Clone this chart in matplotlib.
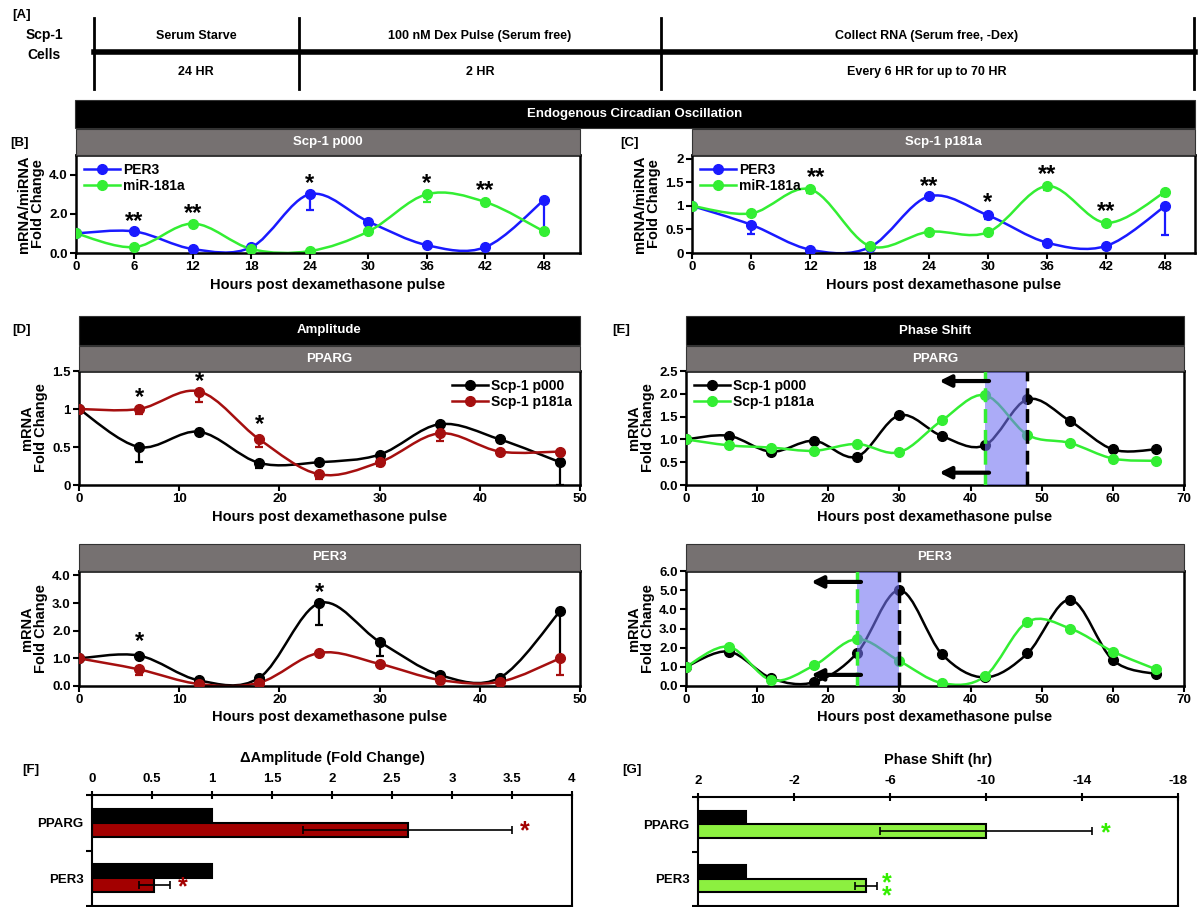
import numpy as np
import matplotlib.pyplot as plt
from matplotlib.path import Path
from matplotlib.patches import PathPatch, Rectangle
from matplotlib.lines import Line2D

plt.rcParams['font.family'] = ['Liberation Sans', 'DejaVu Sans']
plt.rcParams['font.weight'] = 'bold'
plt.rcParams['axes.labelweight'] = 'bold'

# ---- data ----
hours_48 = [0, 6, 12, 18, 24, 30, 36, 42, 48]
hours_66 = [0, 6, 12, 18, 24, 30, 36, 42, 48, 54, 60, 66]

# [B] Scp-1 p000
b_per3 = [1.0, 1.1, 0.2, 0.3, 3.0, 1.6, 0.4, 0.3, 2.7]
b_per3_err = [0, 0, 0.05, 0.05, 0.8, 0.05, 0.05, 0.05, 1.6]
b_mir = [1.0, 0.3, 1.5, 0.2, 0.1, 1.1, 3.0, 2.6, 1.1]
b_mir_err = [0, 0.05, 0.08, 0.05, 0.03, 0.05, 0.4, 0.05, 0.15]
b_stars = [(6, 1.6, '**'), (12, 2.0, '**'), (24, 3.55, '*'), (36, 3.55, '*'), (42, 3.2, '**')]

# [C] Scp-1 p181a
c_per3 = [1.0, 0.6, 0.07, 0.12, 1.2, 0.8, 0.22, 0.15, 1.0]
c_per3_err = [0, 0.2, 0.02, 0.02, 0.03, 0.08, 0.03, 0.03, 0.62]
c_mir = [1.0, 0.84, 1.35, 0.15, 0.45, 0.44, 1.42, 0.64, 1.3]
c_mir_err = [0, 0.03, 0.08, 0.05, 0.03, 0.03, 0.08, 0.03, 0.1]
c_stars = [(12.6, 1.6, '**'), (24, 1.41, '**'), (30, 1.07, '*'), (36, 1.66, '**'), (42, 0.89, '**')]

# [D] Amplitude
d_pparg_p000 = [1.0, 0.5, 0.7, 0.29, 0.3, 0.4, 0.8, 0.6, 0.3]
d_pparg_p000_err = [0, 0.2, 0.03, 0.06, 0.03, 0.02, 0.02, 0.04, 0.3]
d_pparg_p181a = [1.0, 1.0, 1.23, 0.6, 0.14, 0.3, 0.68, 0.44, 0.44]
d_pparg_p181a_err = [0, 0.06, 0.14, 0.1, 0.06, 0.05, 0.1, 0.05, 0.05]
d_pparg_stars = [(6, 1.15, '*'), (12, 1.36, '*'), (18, 0.79, '*')]
d_per3_p000 = [1.0, 1.1, 0.2, 0.3, 3.0, 1.6, 0.4, 0.3, 2.7]
d_per3_p000_err = [0, 0.05, 0.03, 0.05, 0.8, 0.5, 0.05, 0.05, 1.7]
d_per3_p181a = [1.0, 0.6, 0.07, 0.12, 1.2, 0.8, 0.22, 0.15, 1.0]
d_per3_p181a_err = [0, 0.2, 0.02, 0.02, 0.03, 0.08, 0.03, 0.03, 0.62]
d_per3_stars = [(6, 1.6, '*'), (24, 3.37, '*')]

# [E] Phase shift
e_pparg_p000 = [1.0, 1.08, 0.73, 0.97, 0.62, 1.53, 1.07, 0.87, 1.88, 1.4, 0.78, 0.78]
e_pparg_p181a = [1.0, 0.87, 0.82, 0.75, 0.9, 0.72, 1.42, 1.97, 1.1, 0.92, 0.58, 0.53]
e_pparg_peaks = (42, 48)
e_per3_p000 = [1.0, 1.8, 0.4, 0.2, 1.7, 5.0, 1.65, 0.45, 1.7, 4.5, 1.35, 0.62]
e_per3_p181a = [1.0, 2.05, 0.3, 1.07, 2.45, 1.3, 0.15, 0.5, 3.35, 3.0, 1.8, 0.88]
e_per3_peaks = (24, 30)

# [F] / [G]
genes = ['PPARG', 'PER3']
amp_p000 = [1.0, 1.0]
amp_p181a = [2.63, 0.52]
amp_p181a_err = [0.87, 0.13]
shift_p000 = [0, 0]
shift_p181a = [-10, -5]
shift_p181a_err = [4.4, 0.45]

BLUE = '#1a1aff'
GREEN = '#33ee33'
RED = '#a50f0f'
GRAY = '#767171'

W, H = 1203, 907
fig = plt.figure(figsize=(W / 100, H / 100), dpi=100)


def box(l, t, r, b):
    return [l / W, 1 - b / H, (r - l) / W, (b - t) / H]


def fx(x):
    return x / W


def fy(y):
    return 1 - y / H


def banner(l, t, r, b, text, color):
    fig.add_artist(Rectangle((fx(l), fy(b)), (r - l) / W, (b - t) / H, transform=fig.transFigure,
                             facecolor=color, edgecolor='#333333', lw=0.8))
    fig.text(fx((l + r) / 2), fy((t + b) / 2), text, color='white', fontsize=9.5,
             ha='center', va='center')


def smooth(ax, x, y, color, lw=1.8, z=2):
    # Excel-style smoothed line: Catmull-Rom Bezier through the data points
    p = np.column_stack([x, y]).astype(float)
    p = np.vstack([p[:1], p, p[-1:]])
    verts = [tuple(p[1])]
    codes = [Path.MOVETO]
    for j in range(1, len(p) - 2):
        c1 = p[j] + (p[j + 1] - p[j - 1]) / 6
        c2 = p[j + 1] - (p[j + 2] - p[j]) / 6
        verts += [tuple(c1), tuple(c2), tuple(p[j + 1])]
        codes += [Path.CURVE4] * 3
    ax.add_patch(PathPatch(Path(verts, codes), fill=False, edgecolor=color, lw=lw, zorder=z))


def series(ax, x, y, err, color):
    smooth(ax, x, y, color)
    if err is not None:
        ax.errorbar(x, y, yerr=[err, np.zeros(len(err))], fmt='none', ecolor=color,
                    elinewidth=1.6, capsize=3, capthick=1.6, zorder=3)
    ax.plot(x, y, 'o', color=color, ms=7, zorder=4)


def style(ax, xlim, xticks, ylim, yticks, ylabels, ylabel):
    ax.set_xlim(*xlim)
    ax.set_ylim(*ylim)
    ax.set_xticks(xticks)
    ax.set_xticklabels([str(t) for t in xticks])
    ax.set_yticks(yticks)
    ax.set_yticklabels(ylabels)
    ax.tick_params(direction='out', length=4, width=1.5, labelsize=9.5, pad=2)
    for s in ax.spines.values():
        s.set_linewidth(1.8)
    ax.set_xlabel('Hours post dexamethasone pulse', fontsize=10.5, labelpad=3)
    ax.set_ylabel(ylabel, fontsize=10.5, linespacing=1.0, labelpad=3)


def stars(ax, items, color='black', size=17):
    for x, y, s in items:
        ax.text(x, y, s, ha='center', va='center', fontsize=size, color=color, zorder=6)


def legend(ax, labels, colors, loc):
    handles = [Line2D([], [], color=c, lw=1.8, marker='o', ms=7) for c in colors]
    ax.legend(handles, labels, loc=loc, frameon=False, fontsize=10, handlelength=2.6,
              handletextpad=0.2, borderaxespad=0.2, labelspacing=0.1)


# ---- [A] protocol table ----
fig.text(fx(12), fy(15), '[A]', fontsize=9.5, ha='left', va='center')
fig.text(fx(44), fy(45), 'Scp-1\nCells', fontsize=10, ha='center', va='center', linespacing=1.5)
for xv in [94, 299, 661, 1194]:
    fig.add_artist(Line2D([fx(xv), fx(xv)], [fy(18), fy(89)], color='black', lw=2))
fig.add_artist(Line2D([fx(94), fx(1195)], [fy(52), fy(52)], color='black', lw=4))
row1 = ['Serum Starve', '100 nM Dex Pulse (Serum free)', 'Collect RNA (Serum free, -Dex)']
row2 = ['24 HR', '2 HR', 'Every 6 HR for up to 70 HR']
centers = [196, 480, 927]
for c, t1, t2 in zip(centers, row1, row2):
    fig.text(fx(c), fy(36), t1, fontsize=9, ha='center', va='center')
    fig.text(fx(c), fy(72), t2, fontsize=9, ha='center', va='center')

# ---- [B] / [C] ----
banner(75, 100, 1195, 128, 'Endogenous Circadian Oscillation', 'black')
banner(76, 129, 580, 155, 'Scp-1 p000', GRAY)
banner(692, 129, 1195, 155, 'Scp-1 p181a', GRAY)
fig.text(fx(10), fy(143), '[B]', fontsize=9.5, ha='left', va='center')
fig.text(fx(620), fy(143), '[C]', fontsize=9.5, ha='left', va='center')

axb = fig.add_axes(box(76, 155, 580, 253))
series(axb, hours_48, b_per3, b_per3_err, BLUE)
series(axb, hours_48, b_mir, b_mir_err, GREEN)
style(axb, (0, 51.7), hours_48, (0, 5), [0, 2, 4], ['0.0', '2.0', '4.0'], 'mRNA/miRNA\nFold Change')
stars(axb, b_stars)
legend(axb, ['PER3', 'miR-181a'], [BLUE, GREEN], 'upper left')

axc = fig.add_axes(box(692, 155, 1195, 253))
series(axc, hours_48, c_per3, c_per3_err, BLUE)
series(axc, hours_48, c_mir, c_mir_err, GREEN)
style(axc, (0, 51.0), hours_48, (0, 2.08), [0, 0.5, 1, 1.5, 2], ['0', '0.5', '1', '1.5', '2'],
      'mRNA/miRNA\nFold Change')
stars(axc, c_stars)
legend(axc, ['PER3', 'miR-181a'], [BLUE, GREEN], 'upper left')

# ---- [D] amplitude ----
fig.text(fx(12), fy(330), '[D]', fontsize=9.5, ha='left', va='center')
banner(79, 316, 580, 345, 'Amplitude', 'black')
banner(79, 346, 580, 371, 'PPARG', GRAY)
axd1 = fig.add_axes(box(79, 371, 580, 485))
series(axd1, hours_48, d_pparg_p000, d_pparg_p000_err, 'black')
series(axd1, hours_48, d_pparg_p181a, d_pparg_p181a_err, RED)
style(axd1, (0, 50), [0, 10, 20, 30, 40, 50], (0, 1.5), [0, 0.5, 1, 1.5], ['0', '0.5', '1', '1.5'],
      'mRNA\nFold Change')
stars(axd1, d_pparg_stars)
legend(axd1, ['Scp-1 p000', 'Scp-1 p181a'], ['black', RED], 'upper right')

banner(79, 544, 580, 571, 'PER3', GRAY)
axd2 = fig.add_axes(box(79, 571, 580, 686))
series(axd2, hours_48, d_per3_p000, d_per3_p000_err, 'black')
series(axd2, hours_48, d_per3_p181a, d_per3_p181a_err, RED)
style(axd2, (0, 50), [0, 10, 20, 30, 40, 50], (0, 4.16), [0, 1, 2, 3, 4],
      ['0.0', '1.0', '2.0', '3.0', '4.0'], 'mRNA\nFold Change')
stars(axd2, d_per3_stars)

# ---- [E] phase shift ----
fig.text(fx(612), fy(330), '[E]', fontsize=9.5, ha='left', va='center')
banner(686, 316, 1184, 345, 'Phase Shift', 'black')
banner(686, 346, 1184, 371, 'PPARG', GRAY)


def phase(ax, peaks, ya, yb):
    g, k = peaks
    ax.axvspan(g, k, color=(0.45, 0.45, 0.95), alpha=0.6, lw=0, zorder=5)
    ax.axvline(g, color=GREEN, ls=(0, (4, 2)), lw=2.5, zorder=6)
    ax.axvline(k, color='black', ls=(0, (4, 2)), lw=2.5, zorder=6)
    for yy in (ya, yb):
        ax.annotate('', xy=(g - 6.4, yy), xytext=(g + 0.6, yy), zorder=7,
                    arrowprops=dict(arrowstyle='-|>', color='black', lw=3, mutation_scale=17,
                                    shrinkA=0, shrinkB=0))


axe1 = fig.add_axes(box(686, 371, 1184, 485))
series(axe1, hours_66, e_pparg_p000, None, 'black')
series(axe1, hours_66, e_pparg_p181a, None, GREEN)
style(axe1, (0, 70), [0, 10, 20, 30, 40, 50, 60, 70], (0, 2.5), [0, 0.5, 1, 1.5, 2, 2.5],
      ['0.0', '0.5', '1.0', '1.5', '2.0', '2.5'], 'mRNA\nFold Change')
phase(axe1, e_pparg_peaks, 2.28, 0.27)
legend(axe1, ['Scp-1 p000', 'Scp-1 p181a'], ['black', GREEN], 'upper left')

banner(686, 544, 1184, 571, 'PER3', GRAY)
axe2 = fig.add_axes(box(686, 571, 1184, 686))
series(axe2, hours_66, e_per3_p000, None, 'black')
series(axe2, hours_66, e_per3_p181a, None, GREEN)
style(axe2, (0, 70), [0, 10, 20, 30, 40, 50, 60, 70], (0, 6), [0, 1, 2, 3, 4, 5, 6],
      ['0.0', '1.0', '2.0', '3.0', '4.0', '5.0', '6.0'], 'mRNA\nFold Change')
phase(axe2, e_per3_peaks, 5.43, 0.58)

# ---- [F] / [G] bars ----
ypos = np.arange(len(genes))


def bar_axes(ax, xlabel):
    ax.set_ylim(1.5, -0.5)
    ax.set_yticks(ypos)
    ax.set_yticklabels(genes, fontsize=9.5)
    ax.set_yticks([-0.5, 0.5, 1.5], minor=True)
    ax.tick_params(axis='y', which='major', length=0, pad=6)
    ax.tick_params(axis='y', which='minor', length=4, width=1.5, direction='out')
    ax.xaxis.tick_top()
    ax.xaxis.set_label_position('top')
    ax.tick_params(axis='x', direction='inout', length=6, width=1.5, labelsize=9.5, pad=4)
    ax.set_xlabel(xlabel, fontsize=10.5, labelpad=8)
    for s in ax.spines.values():
        s.set_linewidth(1.5)


fig.text(fx(22), fy(770), '[F]', fontsize=9.5, ha='left', va='center')
axf = fig.add_axes(box(92, 795, 572, 906))
axf.barh(ypos - 0.125, amp_p000, height=0.25, color='black', edgecolor='black', lw=1.5)
axf.barh(ypos + 0.125, amp_p181a, height=0.25, color='#a30000', edgecolor='black', lw=1.5,
         xerr=amp_p181a_err, capsize=3, error_kw=dict(elinewidth=1.2, capthick=1.2))
axf.set_xlim(0, 4)
axf.set_xticks([0, 0.5, 1, 1.5, 2, 2.5, 3, 3.5, 4])
axf.set_xticklabels(['0', '0.5', '1', '1.5', '2', '2.5', '3', '3.5', '4'])
bar_axes(axf, '\u0394Amplitude (Fold Change)')
for v, e, yy in zip(amp_p181a, amp_p181a_err, ypos):
    axf.text(v + e + 0.11, yy + 0.16, '*', color='#a30000', fontsize=18, ha='center', va='center')

fig.text(fx(622), fy(770), '[G]', fontsize=9.5, ha='left', va='center')
axg = fig.add_axes(box(698, 797, 1178, 906))
x0 = 2
axg.barh(ypos - 0.125, np.array(shift_p000) - x0, left=x0, height=0.25, color='black',
         edgecolor='black', lw=1.5)
axg.barh(ypos + 0.125, np.array(shift_p181a) - x0, left=x0, height=0.25, color='#8cf040',
         edgecolor='black', lw=1.5, xerr=shift_p181a_err, capsize=3,
         error_kw=dict(elinewidth=1.2, capthick=1.2))
axg.set_xlim(2, -18)
axg.set_xticks([2, -2, -6, -10, -14, -18])
axg.set_xticklabels(['2', '-2', '-6', '-10', '-14', '-18'])
bar_axes(axg, 'Phase Shift (hr)')
axg.text(shift_p181a[0] - shift_p181a_err[0] - 0.6, 0.17, '*', color='#33ee00', fontsize=18,
         ha='center', va='center')
axg.text(shift_p181a[1] - shift_p181a_err[1] - 0.4, 1.2, '*\n*', color='#33ee00', fontsize=18,
         ha='center', va='center', linespacing=0.45)

fig.savefig('out.png', dpi=100)
